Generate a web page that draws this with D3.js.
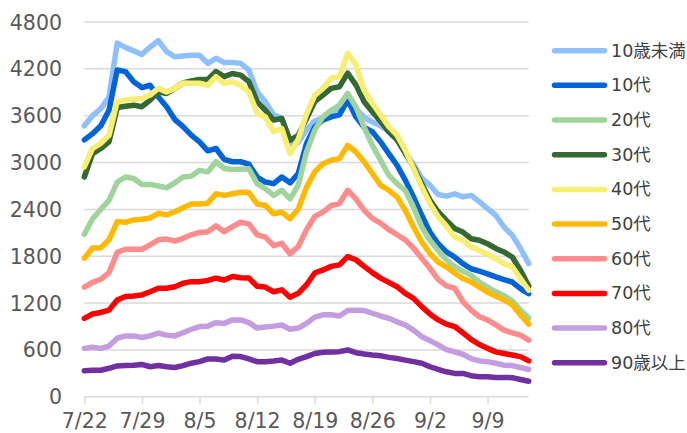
<!DOCTYPE html>
<html>
<head>
<meta charset="utf-8">
<script src="https://cdn.jsdelivr.net/npm/d3@7"></script>
<style>
  body { margin: 0; background: #fff; }
  svg { display: block; }
</style>
</head>
<body>
<svg id="chart" width="687" height="433"></svg>
<script>
// dates shown on the axis (one point per day, 7/22 .. 9/14)
var firstDay = "2021-07-22";
var lastDay = "2021-09-14";
var tickLabels = ["7/22", "7/29", "8/5", "8/12", "8/19", "8/26", "9/2", "9/9"];
var yTicks = [0, 600, 1200, 1800, 2400, 3000, 3600, 4200, 4800];

var seriesNames = ["10歳未満", "10代", "20代", "30代", "40代", "50代", "60代", "70代", "80代", "90歳以上"];
var seriesColors = ["#8ec0ff", "#0563d8", "#a1d39c", "#356832", "#f7ee72", "#ffb900", "#ff8c8c", "#ff0000", "#c49ce0", "#7030a0"];

var under10 = [3470, 3600, 3690, 3840, 4530, 4475, 4430, 4385, 4480, 4560, 4420, 4355, 4365, 4375, 4375, 4270, 4335, 4280, 4280, 4270, 4185, 3905, 3780, 3610, 3570, 3200, 3260, 3420, 3530, 3570, 3650, 3700, 3800, 3690, 3580, 3520, 3470, 3400, 3300, 3130, 2980, 2800, 2710, 2590, 2570, 2600, 2560, 2580, 2500, 2410, 2325, 2175, 2070, 1900, 1705];
var age10s = [3290, 3370, 3470, 3670, 4185, 4165, 4035, 3960, 3990, 3840, 3715, 3550, 3460, 3350, 3265, 3150, 3180, 3040, 3010, 3010, 2980, 2815, 2750, 2730, 2815, 2740, 2860, 3245, 3455, 3545, 3585, 3610, 3800, 3585, 3450, 3395, 3265, 3115, 2965, 2775, 2560, 2325, 2110, 1960, 1855, 1790, 1705, 1640, 1610, 1575, 1535, 1500, 1470, 1385, 1320];
var age20s = [2080, 2280, 2400, 2515, 2750, 2815, 2795, 2720, 2720, 2700, 2675, 2740, 2815, 2825, 2900, 2880, 3010, 2925, 2910, 2915, 2920, 2730, 2665, 2580, 2645, 2535, 2710, 3135, 3415, 3585, 3670, 3735, 3885, 3715, 3455, 3220, 3030, 2840, 2730, 2645, 2430, 2175, 2005, 1875, 1755, 1665, 1610, 1555, 1470, 1405, 1345, 1295, 1230, 1110, 1010];
var age30s = [2815, 3115, 3180, 3265, 3705, 3720, 3735, 3715, 3800, 3905, 3885, 3950, 4020, 4045, 4065, 4065, 4165, 4100, 4140, 4120, 4035, 3780, 3670, 3545, 3565, 3285, 3350, 3560, 3780, 3865, 3950, 3970, 4145, 3995, 3780, 3650, 3525, 3395, 3290, 3120, 2945, 2730, 2520, 2370, 2260, 2155, 2110, 2025, 2005, 1960, 1900, 1855, 1790, 1620, 1420];
var age40s = [2945, 3180, 3245, 3350, 3780, 3800, 3810, 3820, 3865, 3950, 3905, 3950, 4020, 4015, 4015, 3990, 4100, 4015, 4035, 3990, 3905, 3630, 3585, 3395, 3435, 3115, 3300, 3620, 3860, 3950, 4080, 4100, 4400, 4250, 3925, 3760, 3610, 3460, 3350, 3160, 2925, 2690, 2475, 2305, 2185, 2045, 2005, 1920, 1875, 1825, 1770, 1705, 1665, 1515, 1365];
var age50s = [1775, 1905, 1910, 2010, 2245, 2235, 2265, 2275, 2290, 2350, 2330, 2370, 2420, 2470, 2470, 2480, 2600, 2580, 2600, 2620, 2615, 2470, 2450, 2345, 2365, 2280, 2405, 2685, 2880, 2985, 3030, 3050, 3220, 3135, 3010, 2860, 2710, 2645, 2560, 2390, 2175, 1985, 1835, 1725, 1665, 1585, 1515, 1470, 1405, 1340, 1290, 1240, 1180, 1050, 930];
var age60s = [1405, 1465, 1505, 1590, 1850, 1890, 1890, 1890, 1945, 2010, 2020, 1995, 2030, 2075, 2105, 2115, 2190, 2115, 2180, 2235, 2215, 2075, 2045, 1935, 1965, 1830, 1925, 2140, 2310, 2365, 2450, 2475, 2645, 2535, 2390, 2285, 2225, 2140, 2075, 2010, 1905, 1775, 1645, 1500, 1420, 1390, 1220, 1110, 1025, 985, 920, 855, 820, 790, 725];
var age70s = [1005, 1060, 1080, 1110, 1240, 1285, 1290, 1305, 1345, 1390, 1390, 1410, 1455, 1475, 1475, 1490, 1520, 1495, 1540, 1525, 1520, 1415, 1405, 1345, 1370, 1275, 1325, 1435, 1585, 1625, 1670, 1690, 1795, 1755, 1670, 1590, 1520, 1465, 1410, 1325, 1260, 1155, 1060, 985, 930, 900, 820, 735, 670, 620, 575, 555, 535, 515, 460];
var age80s = [620, 635, 620, 650, 750, 780, 780, 760, 780, 815, 790, 780, 820, 865, 900, 905, 950, 940, 985, 985, 950, 880, 895, 905, 920, 865, 880, 940, 1020, 1050, 1050, 1035, 1105, 1110, 1105, 1070, 1035, 1005, 960, 920, 855, 770, 720, 665, 605, 575, 545, 490, 460, 450, 430, 405, 400, 375, 350];
var over90 = [335, 340, 340, 365, 395, 400, 405, 415, 385, 400, 385, 375, 400, 430, 450, 485, 485, 470, 520, 515, 485, 450, 450, 458, 470, 430, 480, 515, 555, 570, 575, 578, 600, 565, 548, 535, 525, 505, 490, 470, 450, 430, 385, 350, 320, 300, 300, 270, 258, 258, 248, 248, 245, 222, 200];

var seriesValues = [under10, age10s, age20s, age30s, age40s, age50s, age60s, age70s, age80s, over90];

// plot area (pixels)
var plotLeft = 84.3, plotRight = 528.7, plotTop = 22, plotBottom = 396.8;
var fontNum = "'DejaVu Sans', 'Noto Sans CJK JP', sans-serif";

var parse = d3.timeParse("%Y-%m-%d");
var start = parse(firstDay);
var end = parse(lastDay);
var days = d3.timeDay.range(start, d3.timeDay.offset(end, 1));

var x = d3.scaleTime().domain([start, end]).range([plotLeft, plotRight]);
var y = d3.scaleLinear().domain([0, 4800]).range([plotBottom, plotTop]);

var svg = d3.select("#chart");

// horizontal gridlines
svg.append("g")
    .selectAll("line")
    .data(yTicks)
    .enter()
    .append("line")
    .attr("x1", plotLeft)
    .attr("x2", plotRight)
    .attr("y1", function (d) { return y(d); })
    .attr("y2", function (d) { return y(d); })
    .attr("stroke", "#d9d9d9")
    .attr("stroke-width", 1.5);

// y axis labels
svg.append("g")
    .selectAll("text")
    .data(yTicks)
    .enter()
    .append("text")
    .attr("x", 62)
    .attr("y", function (d) { return y(d) + 7.5; })
    .attr("text-anchor", "end")
    .attr("font-family", fontNum)
    .attr("font-size", "20.5px")
    .attr("fill", "#595959")
    .text(function (d) { return d; });

// x axis ticks and labels
var tickDates = tickLabels.map(function (t) {
    var p = t.split("/");
    return new Date(2021, +p[0] - 1, +p[1]);
});

var xAxis = d3.axisBottom(x)
    .tickValues(tickDates)
    .tickSize(7)
    .tickFormat(function (d, i) { return tickLabels[i]; });

var gx = svg.append("g")
    .attr("transform", "translate(0," + plotBottom + ")")
    .call(xAxis);
gx.select(".domain").remove();
gx.selectAll(".tick line").attr("stroke", "#d9d9d9").attr("stroke-width", 1.5);
gx.selectAll(".tick text")
    .attr("y", 17)
    .attr("dy", "0.71em")
    .attr("font-family", fontNum)
    .attr("font-size", "20.5px")
    .attr("fill", "#595959");

// series lines
var line = d3.line()
    .x(function (d, i) { return x(days[i]); })
    .y(function (d) { return y(d); });

svg.append("g")
    .selectAll("path")
    .data(seriesValues)
    .enter()
    .append("path")
    .attr("d", line)
    .attr("fill", "none")
    .attr("stroke", function (d, i) { return seriesColors[i]; })
    .attr("stroke-width", 5.5)
    .attr("stroke-linejoin", "round")
    .attr("stroke-linecap", "round");

// legend
var legend = svg.append("g")
    .selectAll("g")
    .data(seriesNames)
    .enter()
    .append("g")
    .attr("transform", function (d, i) { return "translate(0," + (50.7 + i * 34.67) + ")"; });

legend.append("line")
    .attr("x1", 554.5)
    .attr("x2", 604.5)
    .attr("stroke", function (d, i) { return seriesColors[i]; })
    .attr("stroke-width", 5.5)
    .attr("stroke-linecap", "round");

legend.append("text")
    .attr("x", 611)
    .attr("y", 6)
    .attr("font-family", fontNum)
    .attr("font-size", "17.5px")
    .attr("fill", "#404040")
    .text(function (d) { return d; });
</script>
</body>
</html>
